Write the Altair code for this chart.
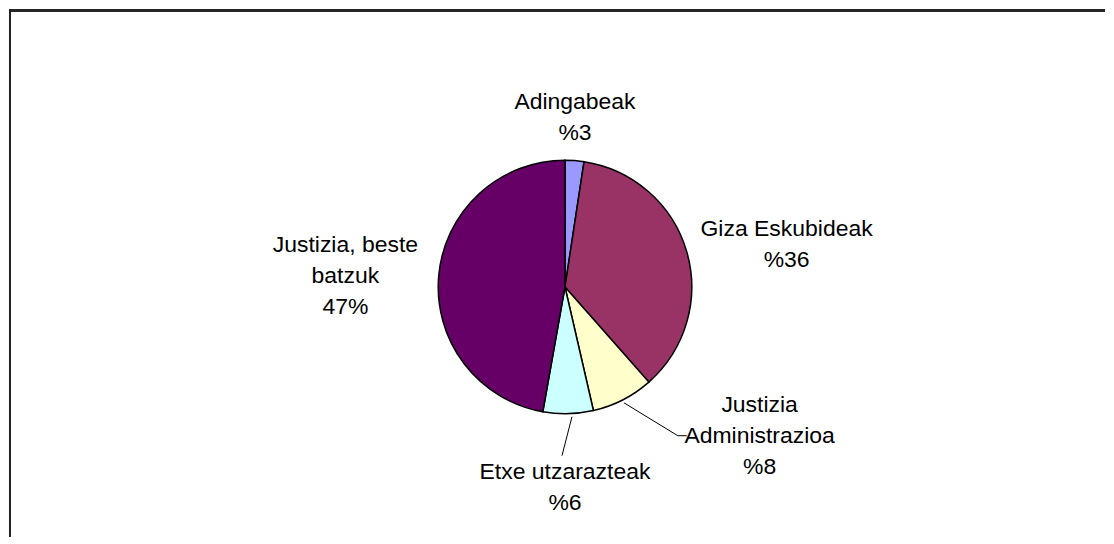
import altair as alt
import pandas as pd

# Data
categories = ["Adingabeak", "Giza Eskubideak", "Justizia Administrazioa", "Etxe utzarazteak", "Justizia, beste batzuk"]
values = [2.4, 36.1, 7.9, 6.4, 47.2]
colors = ["#9999FF", "#993366", "#FFFFCC", "#CCFFFF", "#660066"]
label_texts = ["Adingabeak\n%3", "Giza Eskubideak\n%36", "Justizia\nAdministrazioa\n%8", "Etxe utzarazteak\n%6", "Justizia, beste\nbatzuk\n47%"]

# Layout (pixels inside the chart area; first text line centre)
W, H = 1098, 528
CX, CY, R = 557, 278, 127
label_x = [567, 779, 752, 557, 337]
label_y = [93, 220, 396, 463, 236]
leaders = [  # x, y, x2, y2
    (616, 394, 670, 427),
    (670, 427, 679, 427),
    (564, 408, 554, 447),
]

pie_df = pd.DataFrame({"cat": categories, "val": values, "order": list(range(len(categories)))})
lab_df = pd.DataFrame({"text": label_texts, "x": label_x, "y": label_y})
lead_df = pd.DataFrame(leaders, columns=["x", "y", "x2", "y2"])

pie = alt.Chart(pie_df).mark_arc(radius=R, stroke="black", strokeWidth=1.5).encode(
    theta=alt.Theta("val:Q", stack=True),
    order=alt.Order("order:Q"),
    color=alt.Color("cat:N", scale=alt.Scale(domain=categories, range=colors), legend=None),
    x=alt.value(CX),
    y=alt.value(CY),
)

labels = alt.Chart(lab_df).mark_text(
    font="Liberation Sans", fontSize=23, lineHeight=31, lineBreak="\n",
    align="center", baseline="middle", color="black",
).encode(
    x=alt.X("x:Q", scale=None, axis=None),
    y=alt.Y("y:Q", scale=None, axis=None),
    text="text:N",
)

lead = alt.Chart(lead_df).mark_rule(color="black", strokeWidth=1).encode(
    x=alt.X("x:Q", scale=None, axis=None),
    y=alt.Y("y:Q", scale=None, axis=None),
    x2="x2:Q",
    y2="y2:Q",
)

frame_top = alt.Chart(pie_df).mark_rule(color="#222222", strokeWidth=2).encode(
    x=alt.value(0), x2=alt.value(W), y=alt.value(1)
)
frame_left = alt.Chart(pie_df).mark_rule(color="#222222", strokeWidth=2).encode(
    x=alt.value(1), y=alt.value(0), y2=alt.value(H)
)

chart = alt.layer(frame_top, frame_left, pie, lead, labels).properties(
    width=W, height=H, padding=0, background="white"
).configure_view(stroke=None)

chart.save("out.html", embed_options={"renderer": "svg", "actions": False})
